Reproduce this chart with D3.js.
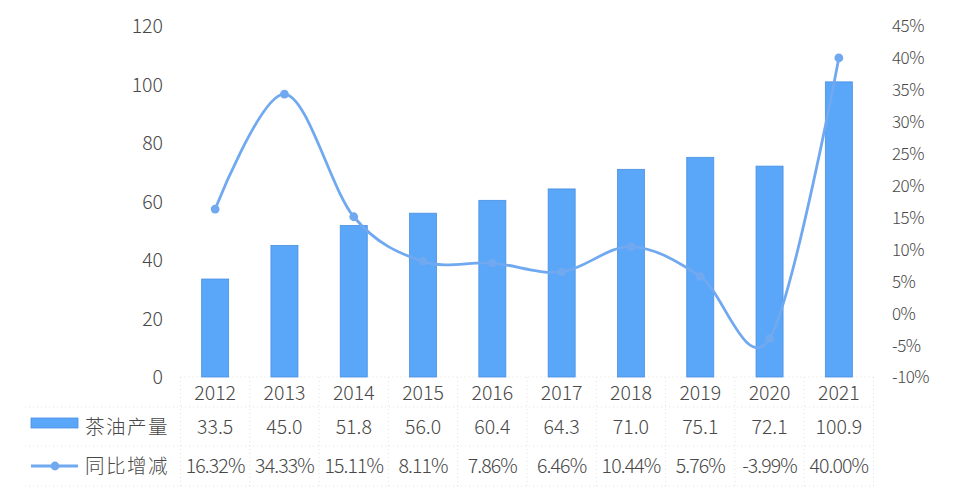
<!DOCTYPE html>
<html><head><meta charset="utf-8">
<script src="https://cdn.jsdelivr.net/npm/d3@7"></script>
<style>
html,body{margin:0;padding:0;background:#fff;}
text{font-family:"Noto Sans CJK SC","Noto Sans",sans-serif;fill:#484848;font-weight:300;}
</style></head>
<body><svg id="c" width="954" height="492"></svg>
<script>
const years = ["2012","2013","2014","2015","2016","2017","2018","2019","2020","2021"];
const output = [33.5,45.0,51.8,56.0,60.4,64.3,71.0,75.1,72.1,100.9];
const growth = [16.32,34.33,15.11,8.11,7.86,6.46,10.44,5.76,-3.99,40.00];
const leftTicks = [0,20,40,60,80,100,120];
const rightTicks = [-10,-5,0,5,10,15,20,25,30,35,40,45];
const seriesNames = ["茶油产量","同比增减"];

const svg = d3.select("#c");
const x = d3.scaleBand().domain(years).range([180.5,873.5]).paddingInner(0.61).paddingOuter(0.305);
const xc = d => x(d) + x.bandwidth()/2;
const yL = d3.scaleLinear().domain([0,120]).range([377,26]);
const yR = d3.scaleLinear().domain([-10,45]).range([377,26]);
const barColor = "#5aa6f8", lineColor = "#70a9f0";
const fs = 19.5;
const txtC = "#484848";

// table grid (dotted faint)
const gridC = "#e2e2e2";
const grid = svg.append("g").attr("stroke",gridC).attr("stroke-dasharray","1,3").attr("stroke-width",1);
[377,407,446,486].forEach((yy,i)=>{
  grid.append("line").attr("x1", i===0?180.5:25).attr("x2",873.5).attr("y1",yy).attr("y2",yy);
});
const bounds = years.map(d=>x(d) - x.step()*x.paddingInner()/2);
bounds.push(873.5);
bounds.forEach(bx=>{
  grid.append("line").attr("x1",bx).attr("x2",bx).attr("y1",377).attr("y2",486);
});

// bars
svg.append("g").selectAll("rect").data(years).join("rect")
  .attr("x", d=>x(d)).attr("width", x.bandwidth())
  .attr("y", (d,i)=>yL(output[i])).attr("height",(d,i)=>yL(0)-yL(output[i]))
  .attr("fill",barColor).attr("stroke","#4a90e2").attr("stroke-width",0.8);

// left axis
const axL = svg.append("g").attr("transform","translate(163,0)")
  .call(d3.axisLeft(yL).tickValues(leftTicks).tickSize(0).tickPadding(0));
axL.select(".domain").remove();
axL.selectAll("text").attr("font-size",fs).style("font-family",'"Noto Sans CJK SC",sans-serif').style("font-weight",300).attr("fill",txtC).attr("dy","0.35em");

// right axis
const axR = svg.append("g").attr("transform","translate(892,0)")
  .call(d3.axisRight(yR).tickValues(rightTicks).tickSize(0).tickPadding(0).tickFormat(d=>d+"%"));
axR.select(".domain").remove();
axR.selectAll("text").attr("font-size",17).style("font-family",'"Noto Sans CJK SC",sans-serif').style("font-weight",300).attr("fill",txtC).attr("dy","0.35em").attr("letter-spacing","-0.5");

// line
const line = d3.line().x((d,i)=>xc(years[i])).y(d=>yR(d)).curve(d3.curveCardinal.tension(0));
svg.append("path").datum(growth).attr("d",line).attr("fill","none").attr("stroke",lineColor).attr("stroke-width",2.8);
svg.append("g").selectAll("circle").data(growth).join("circle")
  .attr("cx",(d,i)=>xc(years[i])).attr("cy",d=>yR(d)).attr("r",4.4).attr("fill",lineColor);

// category labels
svg.append("g").selectAll("text").data(years).join("text")
  .attr("x",d=>xc(d)).attr("y",393).attr("dy","0.35em").attr("text-anchor","middle").attr("font-size",fs).text(d=>d);

// table rows
svg.append("g").selectAll("text").data(output).join("text")
  .attr("x",(d,i)=>xc(years[i])).attr("y",427).attr("dy","0.35em").attr("text-anchor","middle").attr("font-size",fs).text(d=>d.toFixed(1));
svg.append("g").selectAll("text").data(growth).join("text")
  .attr("x",(d,i)=>xc(years[i])).attr("y",466).attr("dy","0.35em").attr("text-anchor","middle").attr("font-size",fs).attr("letter-spacing","-0.9").text(d=>d.toFixed(2)+"%");

// legend
svg.append("rect").attr("x",31).attr("y",418).attr("width",47).attr("height",10).attr("fill",barColor).attr("stroke","#4a90e2").attr("stroke-width",0.8);
svg.append("line").attr("x1",31).attr("x2",78).attr("y1",466).attr("y2",466).attr("stroke",lineColor).attr("stroke-width",2.8);
svg.append("circle").attr("cx",55).attr("cy",466).attr("r",4.4).attr("fill",lineColor);
svg.append("text").attr("x",85).attr("y",427).attr("dy","0.35em").attr("font-size",19.5).attr("letter-spacing","1.5").text(seriesNames[0]);
svg.append("text").attr("x",85).attr("y",466).attr("dy","0.35em").attr("font-size",19.5).attr("letter-spacing","1.5").text(seriesNames[1]);
</script></body></html>
